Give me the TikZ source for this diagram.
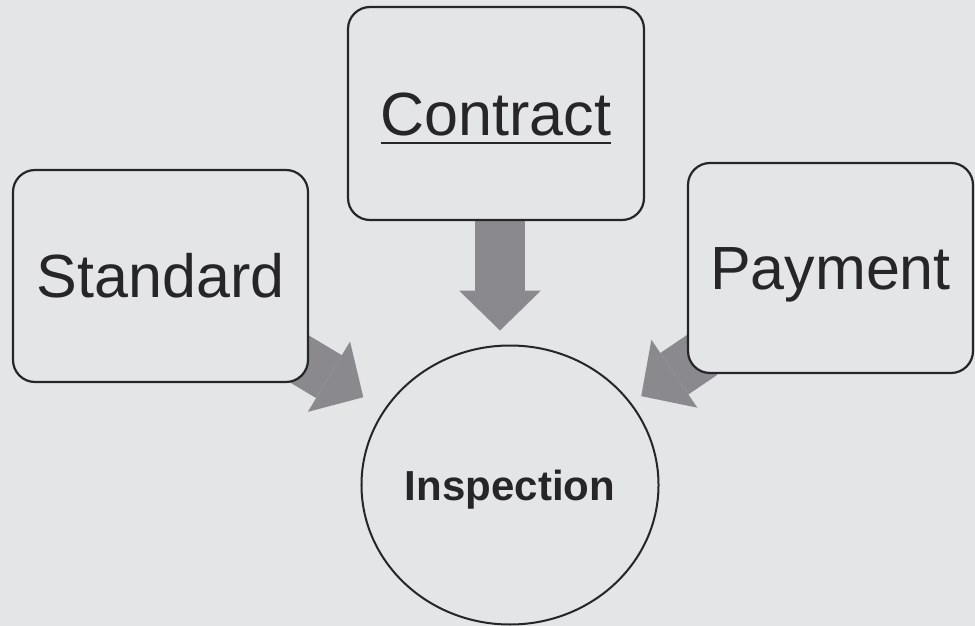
\documentclass[tikz,border=0pt]{standalone}
\usepackage{fontspec}
\setmainfont{Liberation Sans}
\usetikzlibrary{arrows.meta,shapes.geometric}
\definecolor{paper}{RGB}{227,229,231}
\definecolor{arrowgray}{RGB}{138,138,142}
\definecolor{ink}{RGB}{38,38,40}
\pgfdeclarelayer{back}
\pgfdeclarelayer{mid}
\pgfsetlayers{back,mid,main}
\newcommand{\underword}[1]{\setbox0\hbox{#1}\rlap{\rule[-9pt]{\wd0}{2.5pt}}\box0}

\begin{document}
\begin{tikzpicture}[x=1pt,y=-1pt,
	box/.style={draw=ink, line width=2.2pt, fill=paper, rounded corners=22pt, text=ink, inner sep=0pt,
		font=\fontsize{61}{70}\selectfont, text height=43.7pt, text depth=0pt},
	fatarrow/.style={draw=arrowgray, line width=50pt, -{Triangle[width=82pt,length=40pt,line width=0pt]}}]
\useasboundingbox (0,0) rectangle (975,626);
\begin{pgfonlayer}{back}
\fill[paper] (0,0) rectangle (975,626);
\end{pgfonlayer}

\node[box, minimum width=295pt, minimum height=212pt] (standard) at (160.5,276) {Standard};
\node[box, minimum width=296pt, minimum height=213pt] (contract) at (496,113.5) {\underword{Contract}};
\node[box, minimum width=285pt, minimum height=210pt] (payment) at (830.5,268) {Payment};
	\node[ellipse, draw=ink, line width=2pt, fill=paper, inner sep=0pt, minimum width=296pt, minimum height=279pt,
		text=ink, font=\fontsize{42}{50}\selectfont\bfseries, text height=30pt, text depth=0pt] (insp) at (510,485) {Inspection};

\begin{pgfonlayer}{mid}
\draw[fatarrow, shorten <=-20pt, shorten >=24pt] (standard) -- (insp);
\draw[fatarrow, shorten <=-20pt, shorten >=12pt] (payment) -- (insp);
	\coordinate (ctail) at ([xshift=4pt]contract.south);
\draw[fatarrow, shorten >=14pt] (ctail) -- (ctail |- insp.north);
\end{pgfonlayer}

\end{tikzpicture}
\end{document}
